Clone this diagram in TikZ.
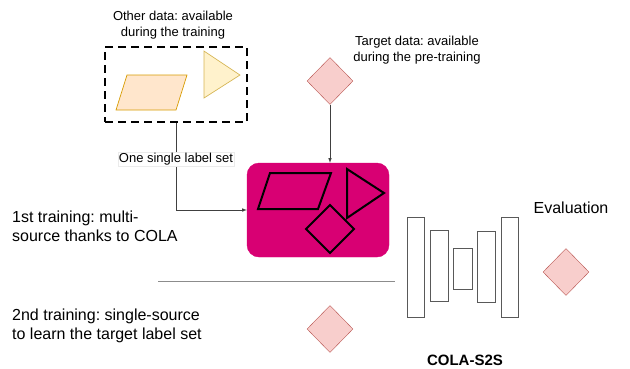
\documentclass[tikz,border=0pt]{standalone}
\usepackage{fontspec}
\setmainfont{Liberation Sans}
\usetikzlibrary{shapes.geometric}
\frenchspacing
\definecolor{colamag}{HTML}{D80073}
\definecolor{redfill}{HTML}{F8CECC}
\definecolor{redline}{HTML}{B85450}
\definecolor{orfill}{HTML}{FFE6CC}
\definecolor{orline}{HTML}{D79B00}
\definecolor{yelfill}{HTML}{FFF2CC}
\definecolor{yelline}{HTML}{D6B656}
\tikzset{
  datadiam/.style={draw=redline,fill=redfill,diamond,aspect=1,inner sep=0,minimum width=46pt,minimum height=47pt},
  layerbox/.style={draw=black!65,fill=white,line width=0.7pt},
  conn/.style={->,draw=black!75,line width=0.6pt},
  bigtext/.style={font=\fontsize{16}{19}\selectfont,align=left,inner sep=0},
  smalltext/.style={font=\fontsize{13}{16}\selectfont,align=center,inner sep=0}
}
\begin{document}
\begin{tikzpicture}[>=latex,x=1pt,y=-1pt]
  \useasboundingbox (0,0) rectangle (630,368);
  % data available during training
  \path (176,84.5) node [draw,dashed,dash pattern=on 8pt off 5pt,line width=2pt,inner sep=0,minimum width=142pt,minimum height=75pt](other){};
  \filldraw[draw=orline,fill=orfill,line width=0.7pt] (116,110) -- (176,110) -- (187,75) -- (127,75) -- cycle;
  \filldraw[draw=yelline,fill=yelfill,line width=0.7pt] (204,51) -- (240,75) -- (204,98) -- cycle;
  \path (173,25) node [smalltext](othertxt){Other data: available\\during the training};
  % target data
  \path (330,81) node [datadiam](tgt){};
  \path (417,50) node [smalltext](tgttxt){Target data: available\\during the pre-training};
  % COLA model
  \path (318,210) node [draw=colamag,fill=colamag,rounded corners=12pt,inner sep=0,minimum width=142pt,minimum height=94pt](cola){};
  \draw[line width=2pt] (270,173) -- (331,173) -- (318,209) -- (258,209) -- cycle;
  \draw[line width=2pt] (347,169) -- (384,193) -- (347,218) -- cycle;
  \draw[line width=2pt] (330,205) -- (354,229) -- (330,253) -- (306,229) -- cycle;
  % connectors
  \draw[conn] (tgt.south) -- (tgt.south |- cola.north);
  \draw[conn] (other.south) |- node[pos=0.21,smalltext,fill=white,draw=black!8,inner sep=1pt]{One single label set} (cola.west);
  % trainings
  \path (12,226) node [bigtext,anchor=west](first){1st training: multi-\\source thanks to COLA};
  \path (12,326) node [bigtext,anchor=west](second){2nd training: single-source\\to learn the target label set};
  \draw[black!45,line width=1pt] (158,281) -- (395,281);
  \path (330,329) node [datadiam](tgt2){};
  % COLA-S2S
  \draw[layerbox] (407,217) rectangle (424,317);
  \draw[layerbox] (430,230) rectangle (448,301);
  \draw[layerbox] (453,248) rectangle (472,289);
  \draw[layerbox] (477,231) rectangle (495,302);
  \draw[layerbox] (501,217) rectangle (518,317);
  \path (465,360) node [font=\fontsize{15}{18}\selectfont\bfseries,inner sep=0](s2s){COLA-S2S};
  \path (571,208) node [bigtext](evaltxt){Evaluation};
  \path (566,272) node [datadiam](evald){};
\end{tikzpicture}
\end{document}
